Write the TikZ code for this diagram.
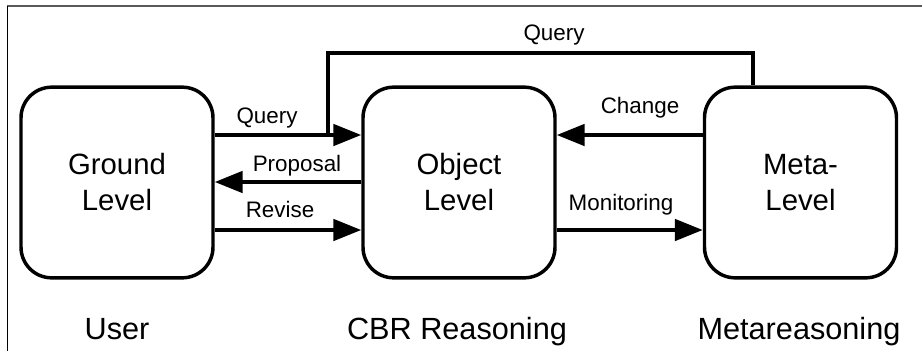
\documentclass[tikz,border=0pt]{standalone}
\usepackage{fontspec}
\setmainfont{Liberation Sans}
\usetikzlibrary{arrows.meta,calc}
\begin{document}
\begin{tikzpicture}[x=0.75pt,y=-0.75pt,
  box/.style={draw,line width=2.6pt,rounded corners=23pt,minimum width=144pt,minimum height=143pt,align=center,font=\fontsize{22}{27}\selectfont,inner sep=0pt},
  arr/.style={line width=3pt,-{Triangle[length=21pt,width=16pt]}},
  conn/.style={line width=3pt},
  lab/.style={anchor=base,font=\fontsize{16.8}{20}\selectfont,inner sep=0pt},
  big/.style={anchor=base,font=\fontsize{23}{28}\selectfont,inner sep=0pt}]
\useasboundingbox (0,0) rectangle (922,351);
\draw[gray!70!black,line width=1.5pt] (7,6) -- (922,6);
\draw[line width=1pt] (7.5,6) -- (7.5,351);
\node[box] (g) at (117,182.5) {Ground\\Level};
\node[box] (o) at (459,182.5) {Object\\Level};
\node[box] (m) at (800.5,182.5) {Meta-\\Level};
\coordinate (y1) at (0,135);
\coordinate (y2) at (0,182);
\coordinate (y3) at (0,230);
\coordinate (top) at (753,53);
\coordinate (tl) at (328,53);
\draw[arr] (g.east |- y1) -- (o.west |- y1);
\draw[arr] (o.west |- y2) -- (g.east |- y2);
\draw[arr] (g.east |- y3) -- (o.west |- y3);
\draw[arr] (m.west |- y1) -- (o.east |- y1);
\draw[arr] (o.east |- y3) -- (m.west |- y3);
\draw[conn] (m.north -| top) -- (top) -- (tl) -- (tl |- y1);
\node[lab] (lq) at (267,123) {Query};
\node[lab] (lp) at (297,171) {Proposal};
\node[lab] (lr) at (280,217) {Revise};
\node[lab] (lc) at (640,113) {Change};
\node[lab] (lm) at (621,210) {Monitoring};
\node[lab] (lt) at (554,40) {Query};
\node[big] (u) at (117,339) {User};
\node[big] (c) at (457,339) {CBR Reasoning};
\node[big] (mr) at (799,339) {Metareasoning};
\end{tikzpicture}
\end{document}
